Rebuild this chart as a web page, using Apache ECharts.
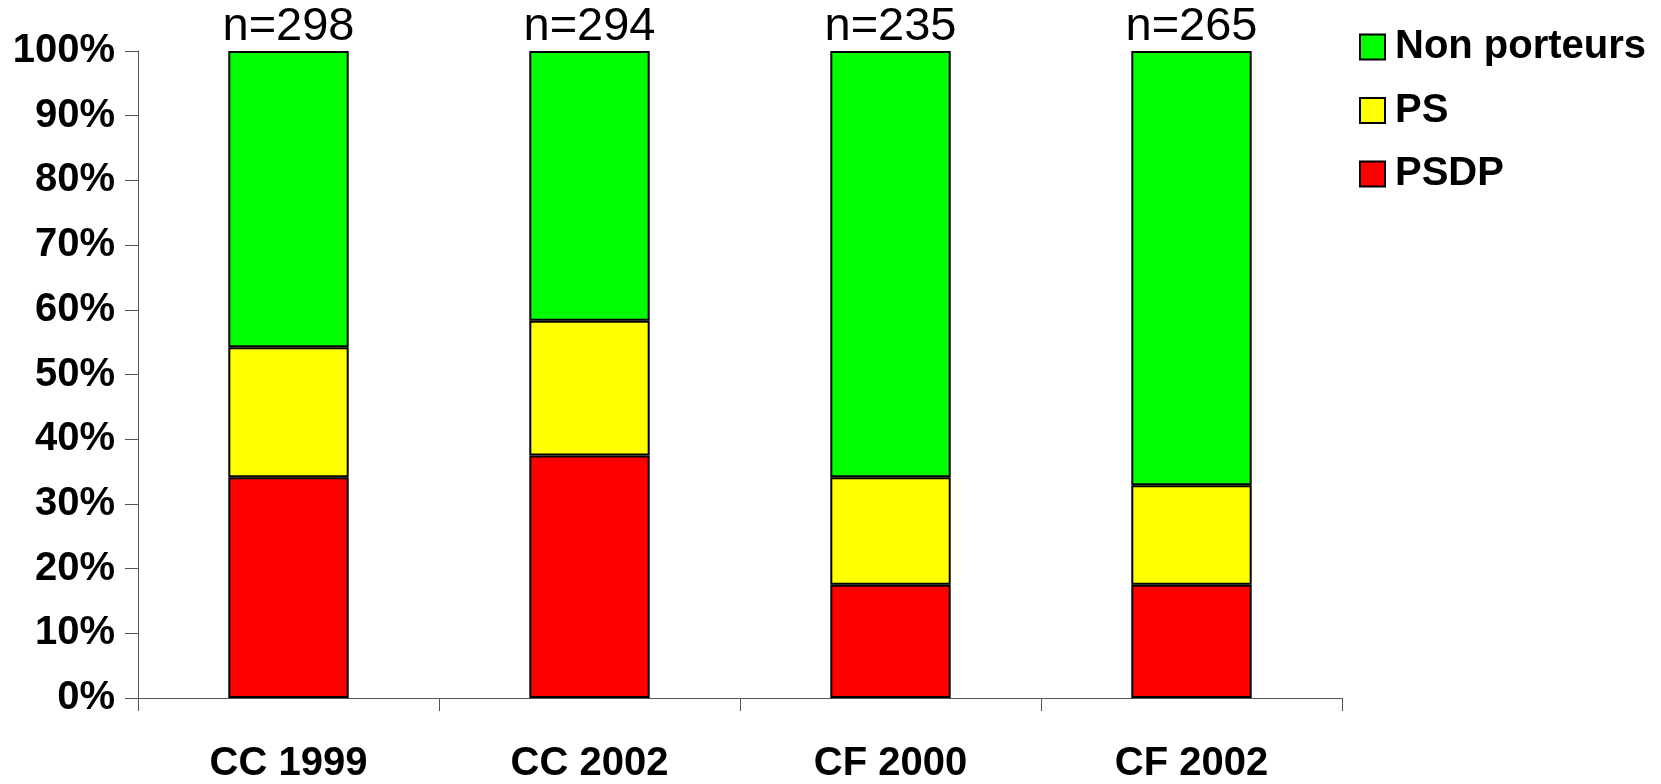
<!DOCTYPE html>
<html>
<head>
<meta charset="utf-8">
<script src="https://cdn.jsdelivr.net/npm/echarts@6/dist/echarts.min.js"></script>
<style>
  html, body { margin: 0; padding: 0; background: #fff; }
  #chart { width: 1661px; height: 784px; }
</style>
</head>
<body>
<div id="chart"></div>
<script>
  // groups and sample sizes
  const categories = ['CC 1999', 'CC 2002', 'CF 2000', 'CF 2002']
  const nCounts = [298, 294, 235, 265]
  // percentages
  const psdp = [34.1, 37.5, 17.5, 17.5]
  const ps = [20.1, 20.8, 16.6, 15.4]
  const nonPorteurs = [45.8, 41.7, 65.9, 67.1]
  const yTicks = [0, 10, 20, 30, 40, 50, 60, 70, 80, 90, 100]

  const FONT = '"Liberation Sans", Arial, sans-serif'

  let myChart = echarts.init(document.getElementById('chart'))
  let barStyle = {
    borderColor: '#000',
    borderWidth: 2
  }
  myChart.setOption({
    animation: false,
    backgroundColor: '#fff',
    grid: {
      left: 138,
      right: 319,
      top: 51,
      bottom: 84.5
    },
    legend: {
      orient: 'vertical',
      left: 1354,
      top: 22,
      icon: 'rect',
      itemWidth: 25,
      itemHeight: 25,
      itemGap: 23.5,
      itemStyle: { borderColor: '#000', borderWidth: 2 },
      textStyle: {
        fontFamily: FONT,
        fontSize: 40,
        fontWeight: 'bold',
        color: '#000',
        lineHeight: 40,
        padding: [0, 0, 0, 5]
      },
      data: ['Non porteurs', 'PS', 'PSDP']
    },
    xAxis: {
      type: 'category',
      data: categories,
      axisLine: { lineStyle: { color: '#555', width: 1 } },
      axisTick: { show: true, length: 13, lineStyle: { color: '#555' } },
      axisLabel: {
        fontFamily: FONT,
        fontSize: 40,
        fontWeight: 'bold',
        color: '#000',
        margin: 46
      }
    },
    yAxis: {
      type: 'value',
      min: 0,
      max: 100,
      interval: 10,
      splitLine: { show: false },
      axisLine: { show: true, lineStyle: { color: '#555', width: 1 } },
      axisTick: { show: true, length: 13, lineStyle: { color: '#555' } },
      axisLabel: {
        fontFamily: FONT,
        fontSize: 40,
        fontWeight: 'bold',
        color: '#000',
        margin: 23,
        formatter: function (v) {
          return yTicks.indexOf(v) > -1 ? v + '%' : ''
        }
      }
    },
    series: [
      {
        name: 'PSDP',
        type: 'bar',
        stack: 'total',
        barWidth: '40%',
        data: psdp,
        itemStyle: Object.assign({ color: '#ff0000' }, barStyle)
      },
      {
        name: 'PS',
        type: 'bar',
        stack: 'total',
        barWidth: '40%',
        data: ps,
        itemStyle: Object.assign({ color: '#ffff00' }, barStyle)
      },
      {
        name: 'Non porteurs',
        type: 'bar',
        stack: 'total',
        barWidth: '40%',
        data: nonPorteurs,
        itemStyle: Object.assign({ color: '#00ff00' }, barStyle),
        label: {
          show: true,
          position: 'top',
          distance: 0,
          fontFamily: FONT,
          fontSize: 47,
          color: '#000',
          formatter: function (p) {
            return 'n=' + nCounts[p.dataIndex]
          }
        }
      }
    ]
  })
</script>
</body>
</html>
